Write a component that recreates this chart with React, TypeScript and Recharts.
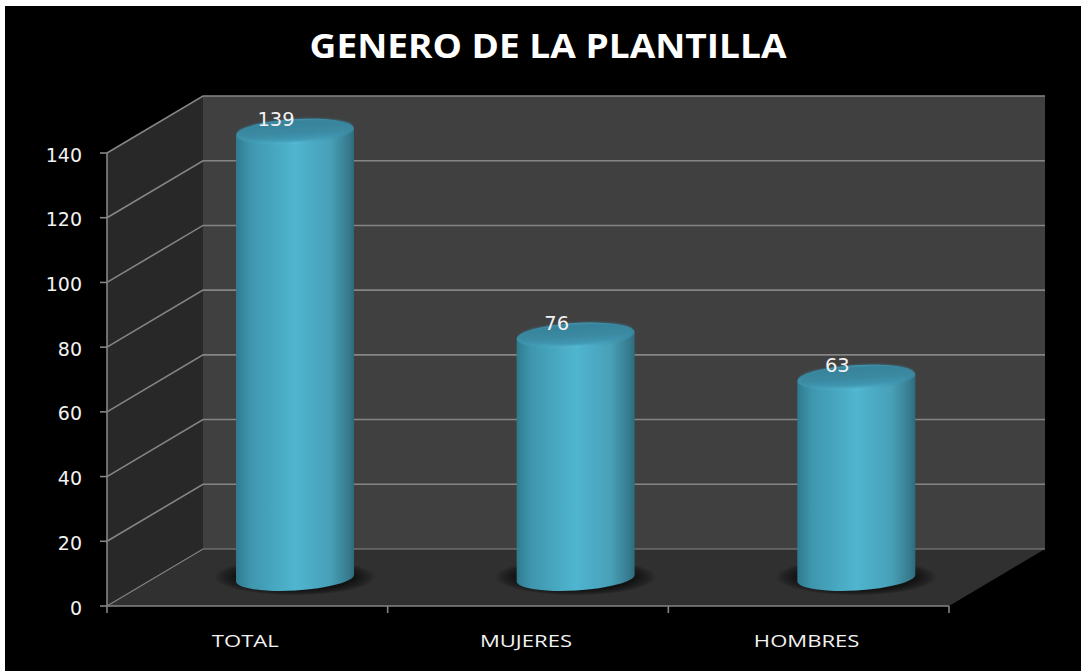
import React from "react";
import { BarChart, Bar, XAxis, YAxis, LabelList } from "recharts";

const TITLE = "GENERO DE LA PLANTILLA";
const categories = ["TOTAL", "MUJERES", "HOMBRES"];
const values = [139, 76, 63];
const valueTicks = [0, 20, 40, 60, 80, 100, 120, 140];
const data = categories.map((name, i) => ({ name, value: values[i] }));

const W = 1081, H = 671;
const LEFT = 107, RIGHT = 949, TOP = 153, BOTTOM = 606;
const DX = 96, DY = -57;
const MAX = 140;
const yOf = (v: number) => BOTTOM - (v / MAX) * (BOTTOM - TOP);
const GRID = "#858585";
const BAR_DX = DX / 2, BAR_DY = -24.5;
const TILT = 3.4;

function Walls() {
  const n = categories.length;
  return (
    <g>
      <polygon points={`${LEFT},${TOP} ${LEFT + DX},${TOP + DY} ${LEFT + DX},${BOTTOM + DY} ${LEFT},${BOTTOM}`} fill="#282828" />
      <rect x={LEFT + DX} y={TOP + DY} width={RIGHT - LEFT} height={BOTTOM - TOP} fill="#404040" />
      <polygon points={`${LEFT},${BOTTOM} ${RIGHT},${BOTTOM} ${RIGHT + DX},${BOTTOM + DY} ${LEFT + DX},${BOTTOM + DY}`} fill="#303030" />
      {valueTicks.map((t) => (
        <polyline
          key={t}
          points={`${LEFT},${yOf(t)} ${LEFT + DX},${yOf(t) + DY} ${RIGHT + DX},${yOf(t) + DY}`}
          fill="none"
          stroke={GRID}
          strokeWidth={t === 0 ? 1.2 : 1.6}
        />
      ))}
      {Array.from({ length: n + 1 }, (_, i) => {
        const x = LEFT + ((RIGHT - LEFT) * i) / n;
        return <line key={i} x1={x} x2={x} y1={BOTTOM} y2={BOTTOM + 7} stroke={GRID} strokeWidth={1.6} />;
      })}
      <defs>
        <linearGradient id="cylBody" x1="0" x2="1" y1="0" y2="0">
          <stop offset="0" stopColor="#2f7a8f" />
          <stop offset="0.12" stopColor="#3e96ad" />
          <stop offset="0.5" stopColor="#50b5d0" />
          <stop offset="0.8" stopColor="#47a0b7" />
          <stop offset="0.96" stopColor="#36798c" />
          <stop offset="1" stopColor="#2e6a7c" />
        </linearGradient>
        <linearGradient id="cylRim" x1="0" x2="1" y1="0" y2="0">
          <stop offset="0" stopColor="#3b90a8" />
          <stop offset="0.5" stopColor="#55b9d4" />
          <stop offset="1" stopColor="#37839a" />
        </linearGradient>
        <linearGradient id="cylTop" x1="0" x2="0" y1="0" y2="1">
          <stop offset="0" stopColor="#37819a" />
          <stop offset="0.6" stopColor="#3b89a2" />
          <stop offset="1" stopColor="#429cb6" />
        </linearGradient>
        <filter id="softTop" x="-10%" y="-30%" width="120%" height="160%">
          <feGaussianBlur stdDeviation="0.8" />
        </filter>
        <radialGradient id="softShadow">
          <stop offset="0" stopColor="#111" stopOpacity="1" />
          <stop offset="0.72" stopColor="#111" stopOpacity="0.95" />
          <stop offset="0.88" stopColor="#111" stopOpacity="0.5" />
          <stop offset="1" stopColor="#111" stopOpacity="0" />
        </radialGradient>
      </defs>
    </g>
  );
}

function Cylinder(props: any) {
  const { x, y, width, height } = props;
  const rx = width / 2;
  const ry = 12.5;
  const cx = x + rx + BAR_DX;
  const yTop = y + BAR_DY;
  const yBot = y + height + BAR_DY - 3.5;
  const d = rx * Math.sin((TILT * Math.PI) / 180);
  const x0 = cx - rx, x1 = cx + rx;
  return (
    <g>
      <ellipse cx={cx} cy={yBot - 1} rx={rx + 22} ry={ry + 6} fill="url(#softShadow)" />
      <path
        d={`M${x0},${yTop + d} L${x0},${yBot + d} A${rx},${ry} ${-TILT} 0 0 ${x1},${yBot - d} L${x1},${yTop - d} Z`}
        fill="url(#cylBody)"
      />
      <ellipse cx={cx} cy={yTop} rx={rx} ry={ry} fill="url(#cylRim)" transform={`rotate(${-TILT} ${cx} ${yTop})`} />
      <ellipse
        cx={cx}
        cy={yTop - 1.5}
        rx={rx - 1.5}
        ry={ry - 1.5}
        fill="url(#cylTop)"
        filter="url(#softTop)"
        transform={`rotate(${-TILT} ${cx} ${yTop - 1.5})`}
      />
    </g>
  );
}

function ValueLabel(props: any) {
  const { x, y, width, value } = props;
  return (
    <text x={x + width / 2 + BAR_DX - 19} y={y + BAR_DY - 6} fill="#f2f2f2" fontFamily="'DejaVu Sans'" fontSize={19.5} textAnchor="middle">
      {value}
    </text>
  );
}

function XTick(props: any) {
  const { x, y, payload } = props;
  return (
    <text transform={`translate(${x - 2},${y + 39}) scale(1.3,1)`} fill="#f2f2f2" fontFamily="'Open Sans'" fontSize={17} textAnchor="middle">
      {payload.value}
    </text>
  );
}

function YTick(props: any) {
  const { y, payload } = props;
  return (
    <text x={82} y={y + 8.5} fill="#f2f2f2" fontFamily="'DejaVu Sans'" fontSize={19} textAnchor="end">
      {payload.value}
    </text>
  );
}

export default function App() {
  return (
    <div style={{ position: "absolute", left: 0, top: 0, width: W, height: H, background: "#fff", overflow: "hidden" }}>
      <div style={{ position: "absolute", left: 5, top: 6, width: W - 5, height: H - 6, background: "#000" }} />
      <div style={{ position: "absolute", left: 0, top: 0 }}>
        <BarChart
          width={W}
          height={H}
          data={data}
          barSize={118}
          margin={{ top: TOP, right: W - RIGHT, bottom: 35, left: 47 }}
        >
          <Walls />
          <text
            transform="translate(548,57.5) scale(1.09,1)"
            fill="#fff"
            fontFamily="'Open Sans'"
            fontWeight={700}
            fontSize={34}
            textAnchor="middle"
          >
            {TITLE}
          </text>
          <YAxis
            width={60}
            domain={[0, MAX]}
            ticks={valueTicks}
            interval={0}
            stroke={GRID}
            strokeWidth={1.6}
            tickSize={7}
            tick={<YTick />}
          />
          <XAxis
            dataKey="name"
            height={30}
            stroke={GRID}
            strokeWidth={1.6}
            tickLine={false}
            tickSize={0}
            interval={0}
            tick={<XTick />}
          />
          <Bar dataKey="value" isAnimationActive={false} shape={<Cylinder />}>
            <LabelList dataKey="value" content={<ValueLabel />} />
          </Bar>
        </BarChart>
      </div>
    </div>
  );
}
